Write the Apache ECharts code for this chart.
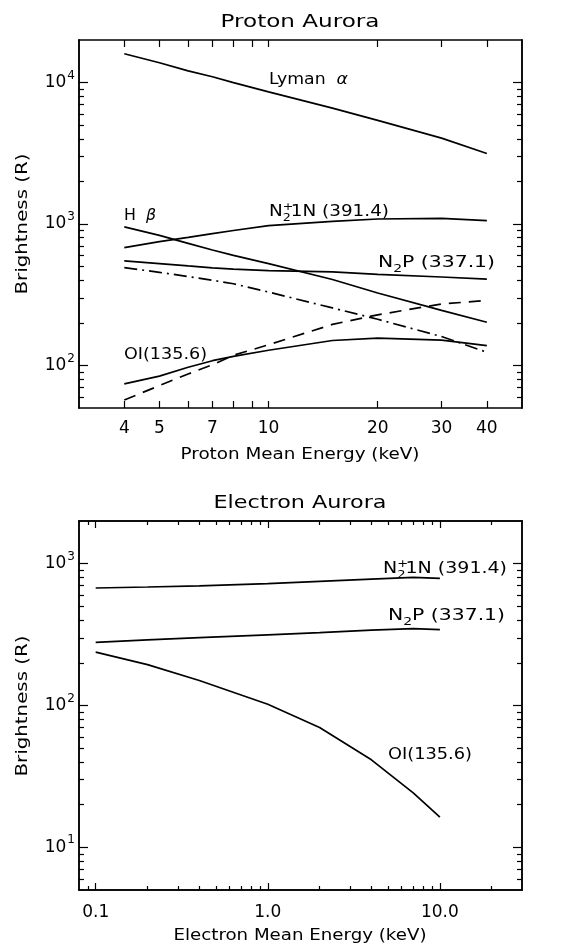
<!DOCTYPE html>
<html>
<head>
<meta charset="utf-8">
<script src="https://cdn.jsdelivr.net/npm/echarts@6/dist/echarts.min.js"></script>
<style>
  html, body { margin: 0; padding: 0; background: #fff; }
  #main { width: 576px; height: 947px; }
</style>
</head>
<body>
<div id="main"></div>
<script>
// Proton aurora (mean energy, keV)
var protonEnergy = [4, 5, 6, 7, 8, 10, 15, 20, 30, 40];
var lymanAlpha = [16000, 13800, 12100, 11000, 10000, 8600, 6600, 5400, 4050, 3150];
var hBeta      = [955, 830, 730, 655, 600, 525, 405, 325, 245, 202];
var pN2p1N     = [680, 750, 805, 855, 900, 975, 1045, 1085, 1095, 1055];
var pN22P      = [548, 525, 505, 490, 480, 468, 458, 440, 422, 408];
var pDashDot   = [492, 455, 425, 400, 378, 330, 255, 212, 160, 124];
var pDashed    = [57, 72, 87, 101, 118, 140, 195, 228, 272, 288];
var pOI        = [74, 84, 97, 108, 116, 128, 150, 156, 151, 138];

// Electron aurora
var electronEnergy = [0.1, 0.2, 0.4, 1, 2, 4, 7, 10];
var eN2p1N = [674, 685, 698, 723, 750, 778, 800, 788];
var eN22P  = [279, 290, 301, 315, 326, 340, 348, 343];
var eOI    = [238, 194, 150, 102, 70, 41.4, 24.2, 16.3];

// tick values
var protonLabels = [4, 5, 7, 10, 20, 30, 40];
var protonTicks  = [4, 5, 6, 7, 8, 9, 10, 20, 30, 40];
var electronMajor = [0.1, 1, 10];
var electronMinor = [0.09, 0.2, 0.3, 0.4, 0.5, 0.6, 0.7, 0.8, 0.9, 2, 3, 4, 5, 6, 7, 8, 9, 20];
var topYMajor = [100, 1000, 10000];
var topYMinor = [60, 70, 80, 90, 200, 300, 400, 500, 600, 700, 800, 900,
                 2000, 3000, 4000, 5000, 6000, 7000, 8000, 9000];
var botYMajor = [10, 100, 1000];
var botYMinor = [6, 7, 8, 9, 20, 30, 40, 50, 60, 70, 80, 90,
                 200, 300, 400, 500, 600, 700, 800, 900];

var font = 'DejaVu Sans';

function pairs(xs, ys) {
    return xs.map(function (x, i) { return [x, ys[i]]; });
}

function axis(grid, pos, min, max, ticks, len, labels, fmt, margin) {
    var a = {
        type: 'log', logBase: 10, gridIndex: grid, position: pos,
        min: min, max: max,
        axisLine: { show: true, onZero: false, lineStyle: { color: '#000', width: 1.5 } },
        axisTick: { show: true, inside: true, length: len, customValues: ticks,
                    lineStyle: { color: '#000', width: 1.2 } },
        axisLabel: { show: false },
        splitLine: { show: false },
        minorTick: { show: false }
    };
    if (labels) {
        a.axisLabel = {
            show: true, customValues: labels, formatter: fmt, margin: margin,
            color: '#000', fontFamily: font, fontSize: 17,
            rich: {
                b: { fontFamily: font, fontSize: 17, color: '#000', lineHeight: 26 },
                s: { fontFamily: font, fontSize: 12, color: '#000', verticalAlign: 'top', padding: [0, 0, 0, 1] }
            }
        };
    }
    return a;
}

function powFmt(v) {
    return '{b|10}{s|' + Math.round(Math.log10(v)) + '}';
}

var xAxes = [
    axis(0, 'bottom', 3, 50, protonTicks, 7, protonLabels, function (v) { return String(Math.round(v)); }, 12),
    axis(0, 'top', 3, 50, protonTicks, 7),
    axis(1, 'bottom', 0.08, 30, electronMajor, 7, electronMajor, function (v) { return v.toFixed(1); }, 14),
    axis(1, 'bottom', 0.08, 30, electronMinor, 4),
    axis(1, 'top', 0.08, 30, electronMajor, 7),
    axis(1, 'top', 0.08, 30, electronMinor, 4)
];
var yAxes = [
    axis(0, 'left', 50, 20000, topYMajor, 9, topYMajor, powFmt, 4),
    axis(0, 'left', 50, 20000, topYMinor, 5),
    axis(0, 'right', 50, 20000, topYMajor, 9),
    axis(0, 'right', 50, 20000, topYMinor, 5),
    axis(1, 'left', 5, 2000, botYMajor, 9, botYMajor, powFmt, 4),
    axis(1, 'left', 5, 2000, botYMinor, 5),
    axis(1, 'right', 5, 2000, botYMajor, 9),
    axis(1, 'right', 5, 2000, botYMinor, 5)
];

var dashed = [12, 8];
var dashDot = [13, 5, 2, 5];

function line(xi, yi, xs, ys, type) {
    return {
        type: 'line', xAxisIndex: xi, yAxisIndex: yi, data: pairs(xs, ys),
        showSymbol: false, silent: true,
        lineStyle: { color: '#000', width: 1.7, type: type || 'solid' }
    };
}

// free text built from pieces: [text, size, dy, italic, stacked]
var measureCtx = document.createElement('canvas').getContext('2d');
function measure(t, size, italic) {
    measureCtx.font = (italic ? 'italic ' : '') + size + 'px "' + font + '"';
    return measureCtx.measureText(t).width;
}
function textGroup(x, y, parts, width, centered, rotate) {
    var cx = 0, kids = [];
    parts.forEach(function (p) {
        kids.push({
            type: 'text', x: cx, y: p[2] || 0, silent: true,
            style: { text: p[0], fill: '#000', fontFamily: font, fontSize: p[1],
                     fontStyle: p[3] ? 'italic' : 'normal', verticalAlign: 'middle' }
        });
        if (!p[4]) cx += measure(p[0], p[1], p[3]);
    });
    if (centered) {
        kids.forEach(function (k) { k.x -= cx / 2; });
    }
    return { type: 'group', x: x, y: y, scaleX: width / cx, rotation: rotate || 0, children: kids };
}

var n2plus = [['N', 16], ['+', 11, -5, false, true], ['2', 11, 6], ['1N (391.4)', 16]];
var n2p = [['N', 16], ['2', 11, 6], ['P (337.1)', 16]];

var texts = [
    textGroup(300, 22, [['Proton Aurora', 18]], 159, true),
    textGroup(300, 503, [['Electron Aurora', 18]], 173, true),
    textGroup(300, 455, [['Proton Mean Energy (keV)', 16]], 239, true),
    textGroup(300, 936, [['Electron Mean Energy (keV)', 16]], 253, true),
    textGroup(23, 224, [['Brightness (R)', 16]], 141, true, Math.PI / 2),
    textGroup(23, 706, [['Brightness (R)', 16]], 141, true, Math.PI / 2),

    textGroup(269, 80, [['Lyman  ', 16], ['\u03b1', 16, 0, true]], 79),
    textGroup(124, 216, [['H  ', 16], ['\u03b2', 16, 0, true]], 32),
    textGroup(269, 212, n2plus, 120),
    textGroup(378, 263, n2p, 117),
    textGroup(124, 355, [['OI(135.6)', 16]], 83),

    textGroup(383, 569, n2plus, 124),
    textGroup(388, 616, n2p, 117),
    textGroup(388, 755, [['OI(135.6)', 16]], 84)
];

var chart = echarts.init(document.getElementById('main'), null, { renderer: 'canvas' });
chart.setOption({
    animation: false,
    backgroundColor: '#fff',
    grid: [
        { left: 79, top: 40, width: 443, height: 368, outerBoundsMode: 'none', containLabel: false },
        { left: 79, top: 521, width: 443, height: 369, outerBoundsMode: 'none', containLabel: false }
    ],
    xAxis: xAxes,
    yAxis: yAxes,
    series: [
        line(0, 0, protonEnergy, lymanAlpha),
        line(0, 0, protonEnergy, hBeta),
        line(0, 0, protonEnergy, pN2p1N),
        line(0, 0, protonEnergy, pN22P),
        line(0, 0, protonEnergy, pDashDot, dashDot),
        line(0, 0, protonEnergy, pDashed, dashed),
        line(0, 0, protonEnergy, pOI),
        line(2, 4, electronEnergy, eN2p1N),
        line(2, 4, electronEnergy, eN22P),
        line(2, 4, electronEnergy, eOI)
    ],
    graphic: texts
});
</script>
</body>
</html>
